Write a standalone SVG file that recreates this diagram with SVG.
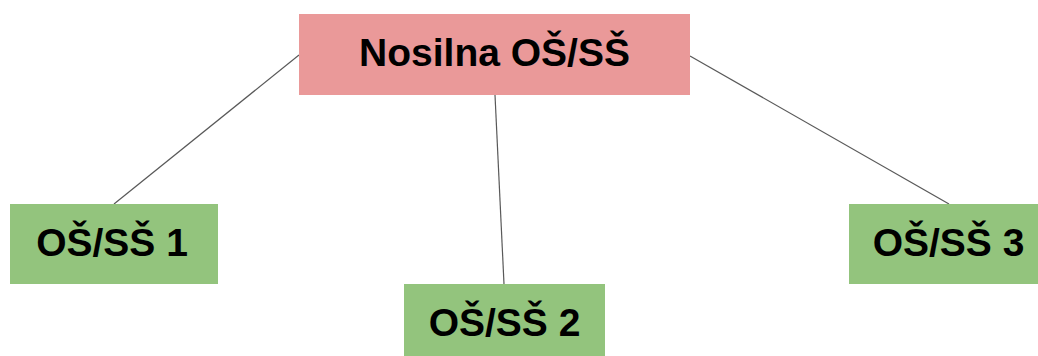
<svg xmlns="http://www.w3.org/2000/svg" width="1038" height="356" viewBox="0 0 1038 356">
<style>
.conn{stroke:#595959;stroke-width:1.2;fill:none}
.root{fill:#EA9999}
.leaf{fill:#93C47D}
.t{font-family:"Liberation Sans",Arial,sans-serif;font-weight:bold;font-size:39px;fill:#000;text-anchor:middle}
</style>
<g id="connectors">
<line class="conn" x1="299" y1="55" x2="114" y2="204"/>
<line class="conn" x1="495" y1="95" x2="504" y2="284"/>
<line class="conn" x1="690" y1="56" x2="949" y2="204"/>
</g>
<g id="root">
<rect class="root" x="299" y="14" width="391" height="81"/>
<text class="t" x="494.5" y="65.5">Nosilna OŠ/SŠ</text>
</g>
<g id="n1">
<rect class="leaf" x="10" y="204" width="208" height="80"/>
<text class="t" x="112" y="256">OŠ/SŠ 1</text>
</g>
<g id="n2">
<rect class="leaf" x="404" y="284" width="201" height="72"/>
<text class="t" x="504.5" y="335.5">OŠ/SŠ 2</text>
</g>
<g id="n3">
<rect class="leaf" x="849" y="204" width="200" height="80"/>
<text class="t" x="948.5" y="256">OŠ/SŠ 3</text>
</g>
</svg>
